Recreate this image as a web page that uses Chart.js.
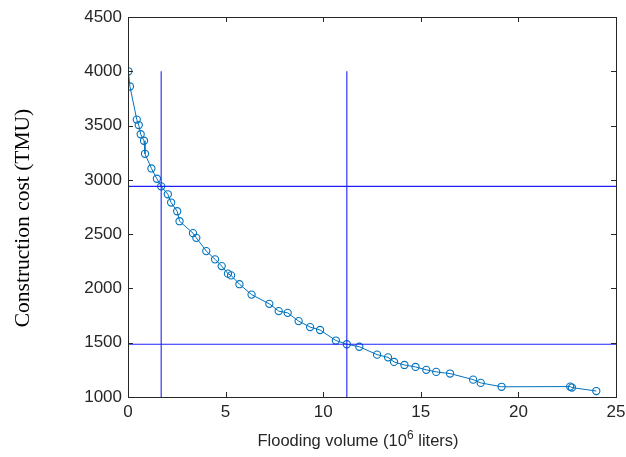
<!DOCTYPE html>
<html>
<head>
<meta charset="utf-8">
<script src="https://cdn.jsdelivr.net/npm/chart.js@4/dist/chart.umd.min.js"></script>
<style>
html,body{margin:0;padding:0;background:#fff;}
#wrap{width:626px;height:457px;position:relative;}
</style>
</head>
<body>
<div id="wrap"><canvas id="c" width="626" height="457"></canvas></div>
<script>
// Pareto front data (flooding volume in 10^6 liters, construction cost in TMU)
const floodVolume = [0.02,0.1,0.45,0.55,0.65,0.82,0.87,1.2,1.48,1.7,2.04,2.21,2.52,2.64,3.33,3.5,4.01,4.46,4.8,5.12,5.28,5.71,6.33,7.24,7.72,8.18,8.74,9.33,9.84,10.65,11.21,11.85,12.76,13.32,13.63,14.16,14.73,15.28,15.79,16.5,17.68,18.07,19.14,22.65,22.74,23.99];
const constructionCost = [4000,3860,3555,3505,3420,3360,3240,3105,3010,2940,2867,2791,2711,2619,2509,2466,2344,2268,2206,2136,2120,2039,1943,1858,1791,1775,1699,1644,1617,1520,1486,1463,1390,1365,1323,1295,1277,1250,1231,1216,1160,1130,1094,1096,1087,1055];
// Reference lines
const vLineX = [1.7, 11.21];
const vLineY = [1000, 4000];
const hLineY = [2940, 1486];
const hLineX = [0, 25];
const xTicks = [0,5,10,15,20,25];
const yTicks = [1000,1500,2000,2500,3000,3500,4000,4500];

const LEFT=128, RIGHT=616, TOP=17, BOTTOM=397;

const datasets = [];
vLineX.forEach(x => datasets.push({data: vLineY.map(y=>({x, y})), borderColor:'#2020FF', borderWidth:1.1, pointRadius:0, fill:false}));
hLineY.forEach(y => datasets.push({data: hLineX.map(x=>({x, y})), borderColor:'#2020FF', borderWidth:1.1, pointRadius:0, fill:false}));
datasets.push({
  data: floodVolume.map((x,i)=>({x, y: constructionCost[i]})),
  borderColor:'#0072BD', borderWidth:1, pointRadius:3.6, pointBorderWidth:1.1,
  pointBackgroundColor:'rgba(0,0,0,0)', pointBorderColor:'#0072BD', fill:false, tension:0
});

const framePlugin = {
  id:'frame',
  afterDraw(chart){
    const {ctx, chartArea:a, scales:{x, y}} = chart;
    ctx.save();
    ctx.strokeStyle='#262626';
    ctx.lineWidth=1;
    ctx.strokeRect(Math.round(a.left)+0.5, Math.round(a.top)+0.5, Math.round(a.right-a.left), Math.round(a.bottom-a.top));
    const L=5;
    ctx.beginPath();
    xTicks.forEach(v=>{
      const px=Math.round(x.getPixelForValue(v))+0.5;
      ctx.moveTo(px,a.bottom); ctx.lineTo(px,a.bottom-L);
      ctx.moveTo(px,a.top); ctx.lineTo(px,a.top+L);
    });
    yTicks.forEach(v=>{
      const py=Math.round(y.getPixelForValue(v))+0.5;
      ctx.moveTo(a.left,py); ctx.lineTo(a.left+L,py);
      ctx.moveTo(a.right,py); ctx.lineTo(a.right-L,py);
    });
    ctx.stroke();
    // x axis title with superscript
    ctx.fillStyle='#262626';
    ctx.textBaseline='alphabetic'; ctx.textAlign='left';
    const big='16.5px "Liberation Sans", Arial, sans-serif';
    const small='12px "Liberation Sans", Arial, sans-serif';
    const p1='Flooding volume (10', p2='6', p3=' liters)';
    ctx.font=big; const w1=ctx.measureText(p1).width, w3=ctx.measureText(p3).width;
    ctx.font=small; const w2=ctx.measureText(p2).width;
    const total=w1+w2+w3;
    let sx=358-total/2; const base=446;
    ctx.font=big; ctx.fillText(p1,sx,base); sx+=w1;
    ctx.font=small; ctx.fillText(p2,sx,base-7); sx+=w2;
    ctx.font=big; ctx.fillText(p3,sx,base);
    // y axis title
    ctx.save();
    ctx.textAlign='center'; ctx.textBaseline='middle';
    ctx.translate(23,218);
    ctx.rotate(-Math.PI/2);
    ctx.font='21.5px "Liberation Serif", "Times New Roman", serif';
    ctx.fillStyle='#000';
    ctx.fillText('Construction cost (TMU)',0,0);
    ctx.restore();
    ctx.restore();
  }
};

new Chart(document.getElementById('c'), {
  type:'line',
  data:{datasets},
  options:{
    responsive:false, animation:false,
    layout:{padding:{top:TOP, right:626-RIGHT, left:0, bottom:0}},
    plugins:{legend:{display:false}, tooltip:{enabled:false}},
    scales:{
      x:{type:'linear', min:0, max:25,
        afterFit(s){s.height=457-BOTTOM; s.paddingRight=0; s.paddingLeft=0;},
        afterBuildTicks(s){s.ticks=xTicks.map(v=>({value:v}));},
        grid:{display:false, drawTicks:false}, border:{display:false},
        ticks:{padding:5, color:'#262626', maxRotation:0, autoSkip:false, callback:v=>String(v), font:{family:'"Liberation Sans", Arial, sans-serif', size:17}}
      },
      y:{type:'linear', min:1000, max:4500,
        afterFit(s){s.width=LEFT; s.paddingTop=0; s.paddingBottom=0;},
        afterBuildTicks(s){s.ticks=yTicks.map(v=>({value:v}));},
        grid:{display:false, drawTicks:false}, border:{display:false},
        ticks:{padding:6, color:'#262626', autoSkip:false, callback:v=>String(v), font:{family:'"Liberation Sans", Arial, sans-serif', size:17}}
      }
    }
  },
  plugins:[framePlugin]
});
</script>
</body>
</html>
